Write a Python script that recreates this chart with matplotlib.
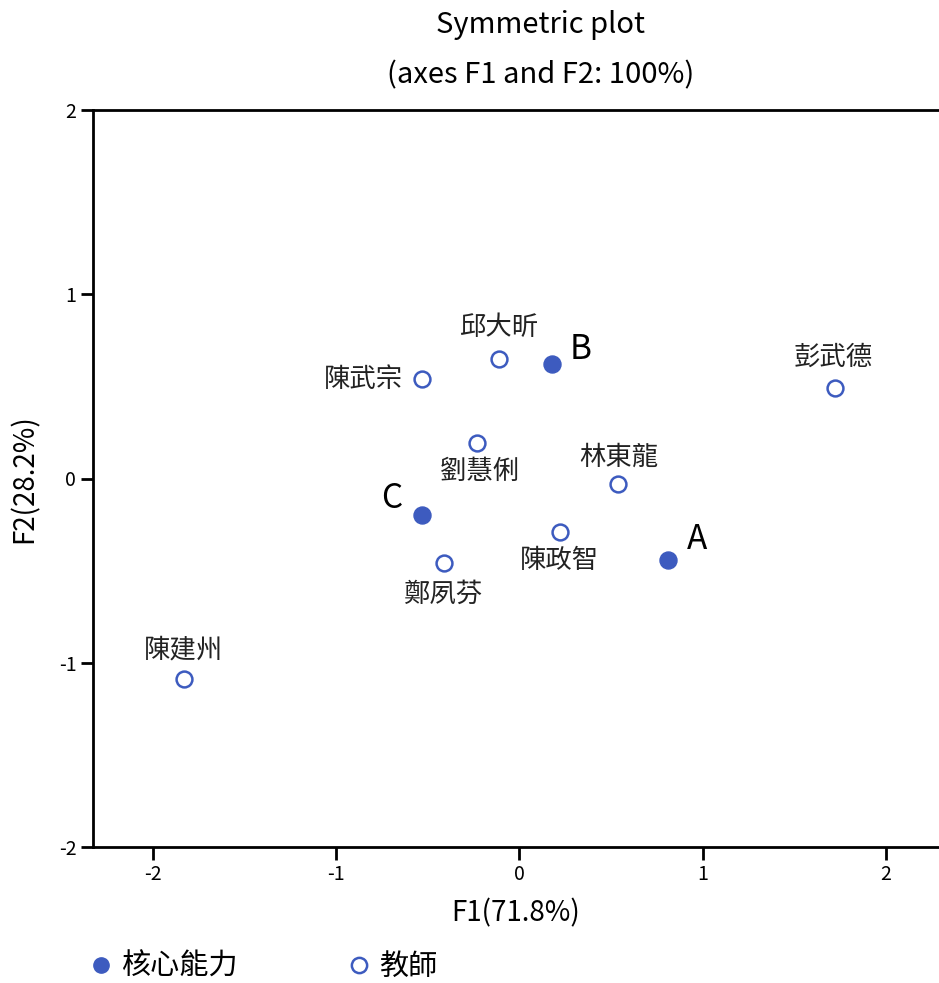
import numpy as np
import matplotlib
matplotlib.use('Agg')
import matplotlib.pyplot as plt
from matplotlib.lines import Line2D

plt.rcParams['font.family'] = ['Noto Sans CJK TC', 'DejaVu Sans']

# DATA

core_names = ['A', 'B', 'C']
core_f1 = [0.81, 0.18, -0.53]
core_f2 = [-0.44, 0.62, -0.20]

teacher_names = ['邱大昕', '陳武宗', '彭武德', '劉慧俐', '林東龍', '陳政智', '鄭夙芬', '陳建州']
teacher_f1 = [-0.11, -0.53, 1.72, -0.23, 0.54, 0.22, -0.41, -1.83]
teacher_f2 = [0.65, 0.54, 0.49, 0.19, -0.03, -0.29, -0.46, -1.09]

ticks = [-2, -1, 0, 1, 2]

# LAYOUT (label offsets in pixels)

core_offsets = {'A': (29, 20), 'B': (28, 15), 'C': (-31, 17)}
teacher_offsets = {
    '邱大昕': (-1, 31),
    '陳武宗': (-59, 0),
    '彭武德': (-2, 31),
    '劉慧俐': (2, -28),
    '林東龍': (0, 27),
    '陳政智': (0, -29),
    '鄭夙芬': (-1, -31),
    '陳建州': (-1, 29),
}

color = '#3d5bbf'

fig = plt.figure(figsize=(9.39, 9.83), dpi=100)
ax = fig.add_axes([93 / 939, 1 - 847 / 983, 1 - 93 / 939, (847 - 110) / 983])

ax.scatter(core_f1, core_f2, s=150, color=color, edgecolors=color, zorder=3)
ax.scatter(teacher_f1, teacher_f2, s=130, facecolors='white', edgecolors=color,
           linewidths=1.8, zorder=3)

for name, x, y in zip(core_names, core_f1, core_f2):
    dx, dy = core_offsets[name]
    ax.annotate(name, (x, y), xytext=(dx, dy), textcoords='offset pixels',
                ha='center', va='center', fontsize=24, color='black')

for name, x, y in zip(teacher_names, teacher_f1, teacher_f2):
    dx, dy = teacher_offsets[name]
    ax.annotate(name, (x, y), xytext=(dx, dy), textcoords='offset pixels',
                ha='center', va='center', fontsize=19, color='#222222')

ax.set_xlim(-2.327, 2.289)
ax.set_ylim(-2, 2)
ax.set_xticks(ticks)
ax.set_yticks(ticks)
ax.set_xticklabels([str(t) for t in ticks], fontsize=14)
ax.set_yticklabels([str(t) for t in ticks], fontsize=14)

for side in ['left', 'top', 'bottom']:
    ax.spines[side].set_linewidth(2)
ax.spines['right'].set_visible(False)
ax.tick_params(axis='both', width=2, length=9, direction='out', pad=3)

ax.set_xlabel('F1(71.8%)', fontsize=20, labelpad=10)
ax.set_ylabel('F2(28.2%)', fontsize=20, labelpad=14)

fig.text(541 / 939, 1 - 25 / 983, 'Symmetric plot', ha='center', va='center', fontsize=21)
fig.text(541 / 939, 1 - 75 / 983, '(axes F1 and F2: 100%)', ha='center', va='center', fontsize=21)

handles = [
    Line2D([], [], marker='o', linestyle='none', markersize=11, color=color),
    Line2D([], [], marker='o', linestyle='none', markersize=11, markerfacecolor='white',
           markeredgecolor=color, markeredgewidth=1.8),
]
fig.legend(handles, ['核心能力', '教師'], loc='center left',
           bbox_to_anchor=(57 / 939, 1 - 967 / 983), ncol=2, frameon=False,
           fontsize=21, handletextpad=0.1, columnspacing=3.55, handlelength=1.2)

fig.savefig('out.png', dpi=100)
